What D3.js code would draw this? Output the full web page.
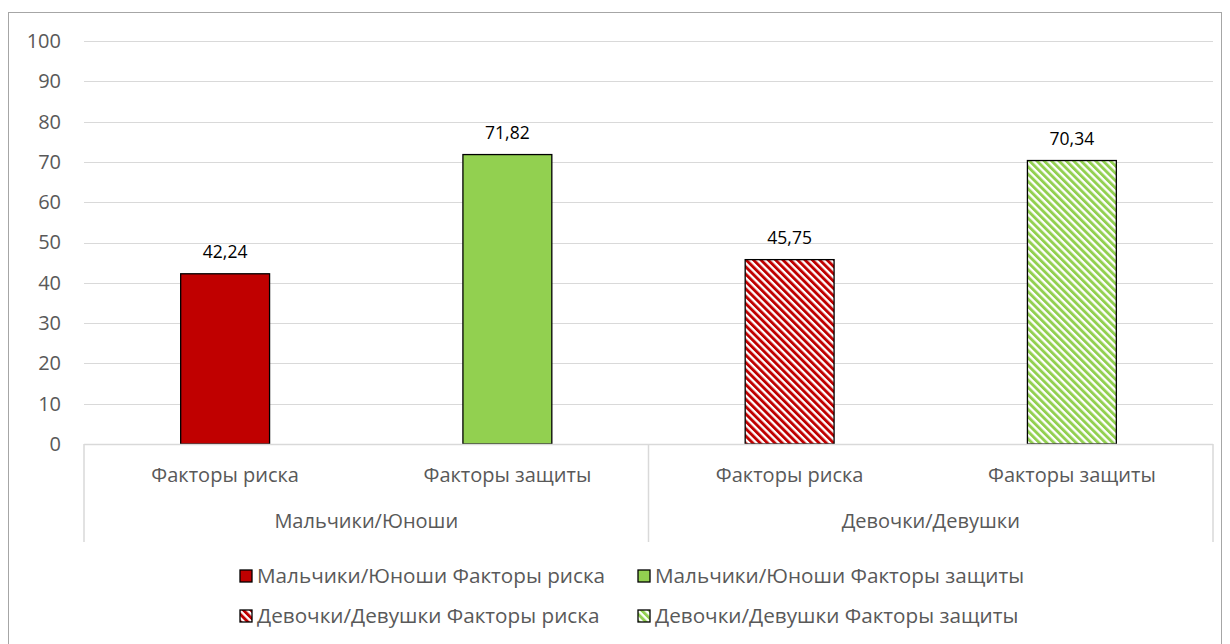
<!DOCTYPE html>
<html>
<head>
<meta charset="utf-8">
<script src="https://cdn.jsdelivr.net/npm/d3@7"></script>
<style>
  body { margin: 0; background: #fff; }
  text { font-family: "Open Sans", "Noto Sans", sans-serif; fill: #595959; }
</style>
</head>
<body>
<div id="chart"></div>
<script>
var groups = ["Мальчики/Юноши", "Девочки/Девушки"];
var factors = ["Факторы риска", "Факторы защиты"];
var values = [42.24, 71.82, 45.75, 70.34];
var yTicks = [0, 10, 20, 30, 40, 50, 60, 70, 80, 90, 100];
var colors = ["#c00000", "#92d050"];

var width = 1230, height = 644;
var margin = { left: 84, right: 17, top: 41, bottom: 200 };

function translate(x, y){ return "translate(" + x + "," + y + ")"; }

var data = [];
groups.forEach(function(g, gi){
    factors.forEach(function(f, fi){
        data.push({ group: g, factor: f, gi: gi, fi: fi, value: values[gi * 2 + fi], key: gi + "-" + fi });
    });
});

var svg = d3.select("#chart").append("svg")
    .attr("width", width).attr("height", height);

var defs = svg.append("defs");
colors.forEach(function(c, i){
    var p = defs.append("pattern")
        .attr("id", "stripe" + i)
        .attr("patternUnits", "userSpaceOnUse")
        .attr("width", 5.2).attr("height", 5.2)
        .attr("patternTransform", "rotate(-45)");
    p.append("rect").attr("width", 5.2).attr("height", 5.2).attr("fill", "#fff");
    p.append("rect").attr("width", 2.9).attr("height", 5.2).attr("fill", c);
});

// chart border
svg.append("rect")
    .attr("x", 8.5).attr("y", 12.5)
    .attr("width", 1213).attr("height", 640)
    .attr("fill", "none").attr("stroke", "#a6a6a6");

var plotW = width - margin.left - margin.right;
var plotH = 444 - margin.top;

var x = d3.scaleBand()
    .domain(data.map(function(d){ return d.key; }))
    .range([0, plotW])
    .paddingInner(0.685).paddingOuter(0.3425);

var y = d3.scaleLinear().domain([0, 100]).range([plotH, 0]);

var g = svg.append("g").attr("transform", translate(margin.left, margin.top));

// gridlines
g.selectAll(".grid").data(yTicks.slice(1)).enter().append("line")
    .attr("x1", 0).attr("x2", plotW)
    .attr("y1", function(d){ return Math.round(y(d)) + 0.5; })
    .attr("y2", function(d){ return Math.round(y(d)) + 0.5; })
    .attr("stroke", "#d9d9d9").attr("stroke-width", 1);

// y axis labels
var yAxis = d3.axisLeft(y).tickValues(yTicks).tickSize(0).tickPadding(23);
g.append("g").call(yAxis)
    .call(function(s){ s.select(".domain").remove(); })
    .selectAll("text").attr("font-size", 20).attr("font-family", null).style("fill", "#595959");

// bars
g.selectAll(".bar").data(data).enter().append("rect")
    .attr("class", "bar")
    .attr("x", function(d){ return x(d.key); })
    .attr("width", x.bandwidth())
    .attr("y", function(d){ return y(d.value); })
    .attr("height", function(d){ return plotH - y(d.value); })
    .attr("fill", function(d){ return d.gi === 0 ? colors[d.fi] : "url(#stripe" + d.fi + ")"; })
    .attr("stroke", "#000").attr("stroke-width", 1.3);

// value labels
g.selectAll(".val").data(data).enter().append("text")
    .attr("x", function(d){ return x(d.key) + x.bandwidth() / 2; })
    .attr("y", function(d){ return y(d.value) - 16; })
    .attr("text-anchor", "middle")
    .attr("font-size", 17.5)
    .style("fill", "#000")
    .text(function(d){ return d3.format(".2f")(d.value).replace(".", ","); });

// category axis
var axisCol = "#d9d9d9";
g.append("line")
    .attr("x1", 0).attr("x2", plotW)
    .attr("y1", plotH + 0.5).attr("y2", plotH + 0.5)
    .attr("stroke", axisCol).attr("stroke-width", 1.5);

var step = plotW / 4;
[0, 2, 4].forEach(function(i){
    g.append("line")
        .attr("x1", i * step).attr("x2", i * step)
        .attr("y1", plotH).attr("y2", plotH + 98)
        .attr("stroke", axisCol).attr("stroke-width", 1.5);
});

g.selectAll(".cat").data(data).enter().append("text")
    .attr("x", function(d){ return x(d.key) + x.bandwidth() / 2; })
    .attr("y", plotH + 38)
    .attr("text-anchor", "middle")
    .attr("font-size", 20)
    .text(function(d){ return d.factor; });

g.selectAll(".grp").data(groups).enter().append("text")
    .attr("x", function(d, i){ return (i * 2 + 1) * step; })
    .attr("y", plotH + 84)
    .attr("text-anchor", "middle")
    .attr("font-size", 20)
    .text(function(d){ return d; });

// legend
var legendPos = [[240, 576], [638, 576], [240, 616], [638, 616]];
var legend = svg.selectAll(".legend").data(data).enter().append("g")
    .attr("transform", function(d, i){ return translate(legendPos[i][0], legendPos[i][1]); });

legend.append("rect")
    .attr("x", 0).attr("y", -6).attr("width", 12).attr("height", 12)
    .attr("fill", function(d){ return d.gi === 0 ? colors[d.fi] : "url(#stripe" + d.fi + ")"; })
    .attr("stroke", "#000").attr("stroke-width", 1.3);

legend.append("text")
    .attr("x", 17).attr("y", 7)
    .attr("font-size", 20.7)
    .text(function(d){ return d.group + " " + d.factor; });
</script>
</body>
</html>
